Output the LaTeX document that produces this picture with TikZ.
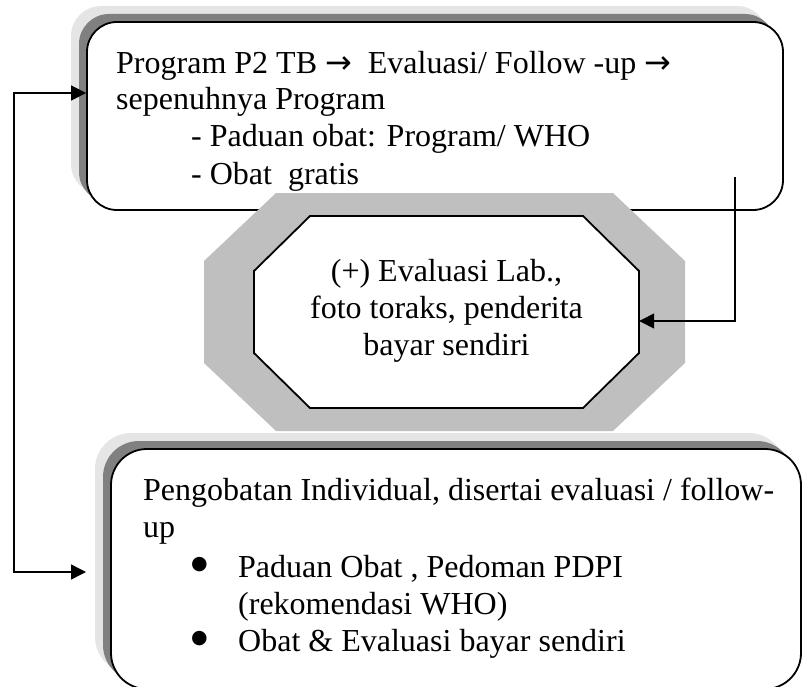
\documentclass[tikz,border=0pt]{standalone}
\usepackage{fontspec}
\setmainfont{Liberation Serif}
\newfontfamily\simbolo{DejaVu Sans}
\usetikzlibrary{shadows,arrows.meta}

% octógono: estilo, x1, y1, x2, y2, corte x, corte y
\newcommand{\octogono}[7]{%
  \path[#1] ({#2+#6},#3) -- ({#4-#6},#3) -- (#4,{#3+#7}) -- (#4,{#5-#7})
    -- ({#4-#6},#5) -- ({#2+#6},#5) -- (#2,{#5-#7}) -- (#2,{#3+#7}) -- cycle;}
\newcommand{\vineta}{\makebox[47pt][l]{\raisebox{7.5pt}{\simbolo\fontsize{19}{19}\selectfont ●}}}
\newcommand{\panah}{{\simbolo →}}

\begin{document}
\begin{tikzpicture}[x=1pt, y=-1pt,
  caja/.style={rectangle, draw, line width=1.8pt, fill=white, inner sep=0pt,
    general shadow={fill=black!10, shadow xshift=-16pt, shadow yshift=16pt},
    general shadow={fill=black!50, shadow xshift=-8pt, shadow yshift=8pt}},
  texto/.style={inner sep=0pt, font=\fontsize{32}{37}\selectfont},
  flecha/.style={line width=1.5pt, -{Triangle[length=15pt, width=15pt]}},
  flechas/.style={line width=1.5pt, {Triangle[length=15pt, width=15pt]}-{Triangle[length=15pt, width=15pt]}}]
\useasboundingbox (0,0) rectangle (802,687);

% Caja superior: Program P2 TB
\node (program) [caja, rounded corners=30pt, minimum width=696pt, minimum height=188pt] at (435,116) {};
\node (programteks) [texto, anchor=base west, align=left] at (116,184)
  {Program P2 TB \panah\ \ Evaluasi/ Follow -up \panah\\
   sepenuhnya Program\\
   \hspace*{75pt}- Paduan obat: Program/ WHO\\
   \hspace*{75pt}- Obat\ \ gratis};

% Octógono central con marco gris
\octogono{fill=black!25}{204}{193}{685}{431}{72}{68}
\octogono{draw, line width=1.8pt, fill=white}{254}{216}{639}{408}{56}{55}
\node (lab) [texto, align=center, minimum width=385pt, minimum height=192pt] at (446.5,311)
  {(+) Evaluasi Lab.,\\ foto toraks, penderita\\ bayar sendiri};

% Caja inferior: Pengobatan Individual
\node (individual) [caja, rounded corners=36pt, minimum width=690pt, minimum height=240pt] at (456,569) {};
\node (individualteks) [texto, anchor=base west, align=left] at (143,651)
  {Pengobatan Individual, disertai evaluasi / follow-\\
   up\\[3pt]
   \hspace*{48pt}\vineta Paduan Obat , Pedoman PDPI\\
   \hspace*{95pt}(rekomendasi WHO)\\
   \hspace*{48pt}\vineta Obat \& Evaluasi bayar sendiri};

% Conectores
\coordinate (turun) at (735,177);
\draw [flecha] (turun) |- ([yshift=-10pt]lab.east);
\coordinate (siku) at (14,93);
\coordinate (masuk) at (86,572);
\draw [flechas] (masuk) -| (siku) -- (siku -| program.west);
\end{tikzpicture}
\end{document}
